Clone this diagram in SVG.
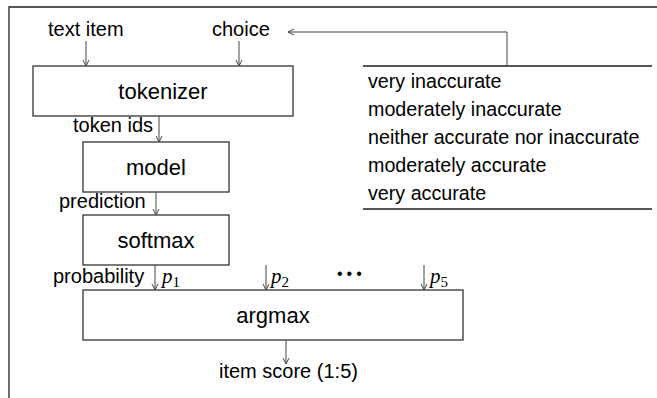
<svg xmlns="http://www.w3.org/2000/svg" width="657" height="398" viewBox="0 0 657 398">
<defs>
<marker id="arr" viewBox="-8 -4 9 8" refX="0" refY="0" markerWidth="9" markerHeight="8" markerUnits="userSpaceOnUse" orient="auto">
<path d="M-6,-3 L0,0 L-6,3" fill="none" stroke="#444" stroke-width="1"/>
</marker>
</defs>
<style>
.box{fill:#fff;stroke:#333;stroke-width:1.3}
.lbl{font-family:"Liberation Sans",Arial,sans-serif;font-size:22px;fill:#000;text-anchor:middle}
.t{font-family:"Liberation Sans",Arial,sans-serif;font-size:20px;fill:#000}
.li{font-size:19.7px}
.c{fill:none;stroke:#444;stroke-width:1}
.a{marker-end:url(#arr)}
.rule{fill:none;stroke:#222;stroke-width:1.3}
.m{font-family:"Liberation Serif","Times New Roman",serif;font-style:italic;font-size:21px;fill:#000}
.s{font-family:"Liberation Serif","Times New Roman",serif;font-style:normal;font-size:15px}
</style>
<rect width="657" height="398" fill="#fff"/>
<path class="rule" d="M9,398 V7 H657"/>
<g id="tokenizer"><rect class="box" x="33" y="66" width="260" height="50"/><text class="lbl" x="163" y="99">tokenizer</text></g>
<g id="model"><rect class="box" x="83" y="142" width="146" height="50"/><text class="lbl" x="156" y="175">model</text></g>
<g id="softmax"><rect class="box" x="83" y="215" width="146" height="50"/><text class="lbl" x="156" y="248">softmax</text></g>
<g id="argmax"><rect class="box" x="83" y="290" width="380" height="50"/><text class="lbl" x="273" y="323">argmax</text></g>
<g id="choices">
<path class="rule" d="M363,66 H652 M363,209 H652"/>
<text class="t li" x="368" y="88">very inaccurate</text>
<text class="t li" x="368" y="116">moderately inaccurate</text>
<text class="t li" x="368" y="144">neither accurate nor inaccurate</text>
<text class="t li" x="368" y="172">moderately accurate</text>
<text class="t li" x="368" y="200">very accurate</text>
</g>
<g id="labels">
<text class="t" x="48" y="36">text item</text>
<text class="t" x="212" y="36">choice</text>
<text class="t" x="73" y="132">token ids</text>
<text class="t" x="59" y="208">prediction</text>
<text class="t" x="53" y="283">probability</text>
<text class="m" x="162" y="283">p<tspan class="s" dy="4">1</tspan></text>
<text class="m" x="271" y="283">p<tspan class="s" dy="4">2</tspan></text>
<text class="m" x="430" y="283">p<tspan class="s" dy="4">5</tspan></text>
<text class="t" x="337" y="279" style="font-size:16px;letter-spacing:4px">•••</text>
<text class="t" x="219" y="378">item score (1:5)</text>
</g>
<g id="connectors">
<line class="c a" x1="86" y1="41" x2="86" y2="66"/>
<line class="c a" x1="239" y1="41" x2="239" y2="66"/>
<polyline class="c a" points="507,66 507,32 288,32"/>
<line class="c a" x1="159" y1="116" x2="159" y2="142"/>
<line class="c a" x1="156" y1="192" x2="156" y2="215"/>
<line class="c a" x1="155" y1="265" x2="155" y2="290"/>
<line class="c a" x1="266" y1="265" x2="266" y2="290"/>
<line class="c a" x1="424" y1="265" x2="424" y2="290"/>
<line class="c a" x1="286" y1="340" x2="286" y2="364"/>
</g>
</svg>
